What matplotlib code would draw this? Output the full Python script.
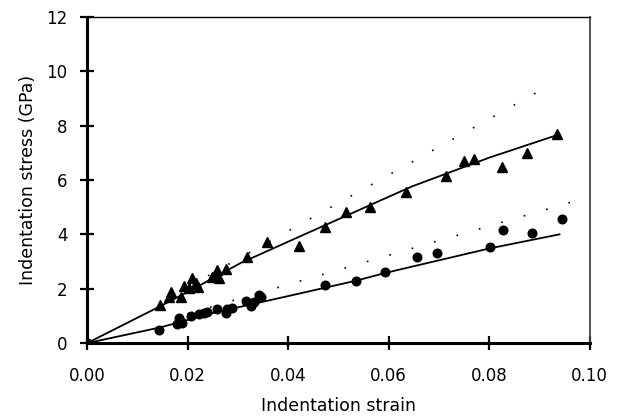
import matplotlib.pyplot as plt

plt.rcParams["font.family"] = ["DejaVu Sans"]

# triangles (upper data set)
tri_strain = [0.0146, 0.0163, 0.0167, 0.0186, 0.0193, 0.0203, 0.0209, 0.0217, 0.0221,
              0.0249, 0.0256, 0.0259, 0.0263, 0.0277, 0.0319, 0.0358, 0.0422, 0.0473,
              0.0516, 0.0562, 0.0634, 0.0715, 0.0749, 0.0769, 0.0826, 0.0875, 0.0936]
tri_stress = [1.40, 1.71, 1.89, 1.71, 2.10, 2.01, 2.38, 2.20, 2.05,
              2.44, 2.50, 2.69, 2.40, 2.72, 3.15, 3.73, 3.56, 4.26,
              4.84, 4.99, 5.57, 6.13, 6.68, 6.76, 6.49, 7.01, 7.69]

# circles (lower data set)
circ_strain = [0.0, 0.0144, 0.0179, 0.0183, 0.0186, 0.0189, 0.0206, 0.0223, 0.0233, 0.0238,
               0.0259, 0.0276, 0.0279, 0.0289, 0.0316, 0.0326, 0.0333, 0.0343, 0.0346,
               0.0474, 0.0536, 0.0593, 0.0656, 0.0696, 0.0801, 0.0828, 0.0886, 0.0944]
circ_stress = [0.0, 0.50, 0.72, 0.94, 0.78, 0.75, 0.99, 1.07, 1.12, 1.15,
               1.24, 1.09, 1.24, 1.31, 1.55, 1.36, 1.50, 1.77, 1.70,
               2.15, 2.27, 2.63, 3.16, 3.33, 3.52, 4.16, 4.06, 4.55]

# fitted curves
upper_fit_strain = [0.0, 0.015, 0.020, 0.0306, 0.040, 0.0646, 0.080, 0.094]
upper_fit_stress = [0.0, 1.40, 1.88, 2.95, 3.73, 5.76, 6.82, 7.68]
lower_fit_strain = [0.0, 0.0146, 0.0253, 0.040, 0.0536, 0.0593, 0.080, 0.094]
lower_fit_stress = [0.0, 0.58, 1.12, 1.73, 2.30, 2.58, 3.48, 4.00]

# dotted straight lines
dot_upper_strain = [0.020, 0.092]
dot_upper_stress = [2.06, 9.48]
dot_lower_strain = [0.020, 0.097]
dot_lower_stress = [1.08, 5.22]

fig = plt.figure(figsize=(6.22, 4.2), dpi=100)
ax = fig.add_axes([0.14, 0.183, 0.808, 0.777])

ax.plot(dot_upper_strain, dot_upper_stress, color="black", lw=1.2, ls=(0, (1, 13)))
ax.plot(dot_lower_strain, dot_lower_stress, color="black", lw=1.2, ls=(0, (1, 13)))
ax.plot(upper_fit_strain, upper_fit_stress, color="black", lw=1.3)
ax.plot(lower_fit_strain, lower_fit_stress, color="black", lw=1.3)
ax.plot(tri_strain, tri_stress, ls="none", marker="^", ms=7.5, color="black")
ax.plot(circ_strain, circ_stress, ls="none", marker="o", ms=6.2, color="black")

ax.set_xlim(0, 0.10)
ax.set_ylim(0, 12)
ax.set_xticks([0.00, 0.02, 0.04, 0.06, 0.08, 0.10])
ax.set_xticklabels(["0.00", "0.02", "0.04", "0.06", "0.08", "0.10"])
ax.set_yticks([0, 2, 4, 6, 8, 10, 12])

ax.spines["left"].set_linewidth(2.2)
ax.spines["bottom"].set_linewidth(2.2)
ax.spines["top"].set_linewidth(1.0)
ax.spines["right"].set_linewidth(1.3)
ax.spines["right"].set_color("#444444")
ax.tick_params(direction="inout", length=10, width=1.6, labelsize=12,
               top=False, right=False)
ax.tick_params(axis="y", pad=9)
ax.tick_params(axis="x", pad=12)

ax.set_xlabel("Indentation strain", fontsize=12.5, labelpad=9)
ax.set_ylabel("Indentation stress (GPa)", fontsize=12.5, labelpad=7)

fig.savefig("out.png", dpi=100)
